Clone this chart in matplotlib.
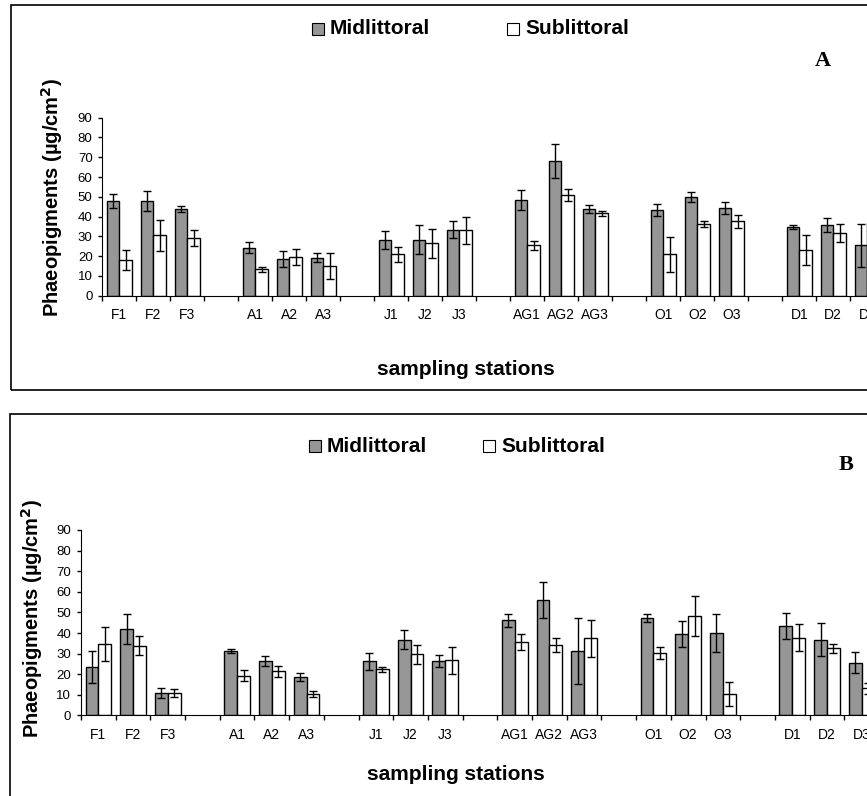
import matplotlib
matplotlib.use("Agg")
import matplotlib.pyplot as plt
import numpy as np
from matplotlib.patches import Rectangle

# station labels, '' = empty slot between months
stations = ['F1', 'F2', 'F3', '', 'A1', 'A2', 'A3', '', 'J1', 'J2', 'J3', '',
            'AG1', 'AG2', 'AG3', '', 'O1', 'O2', 'O3', '', 'D1', 'D2', 'D3']

# panel A values (NaN on empty slots)
midA = [47.9, 47.9, 43.8, np.nan, 24.3, 18.5, 19.2, np.nan, 28.3, 28.3, 33.4, np.nan,
        48.5, 68.1, 43.8, np.nan, 43.3, 49.7, 44.5, np.nan, 34.6, 35.7, 25.5]
midA_err = [3.4, 5.0, 1.7, 0, 2.9, 3.9, 2.4, 0, 4.6, 7.3, 4.3, 0,
            5.0, 8.7, 2.2, 0, 2.9, 2.5, 3.0, 0, 1.0, 3.5, 11.0]
subA = [17.9, 30.5, 29.0, np.nan, 13.3, 19.7, 15.2, np.nan, 20.9, 26.5, 33.0, np.nan,
        25.5, 50.7, 41.6, np.nan, 20.9, 36.4, 37.6, np.nan, 23.1, 31.7, 36.9]
subA_err = [5.0, 7.8, 4.0, 0, 1.3, 4.0, 6.6, 0, 3.7, 7.4, 6.9, 0,
            2.2, 3.0, 1.3, 0, 9.0, 1.6, 3.2, 0, 7.5, 4.4, 1.5]

# panel B values
midB = [23.6, 41.9, 10.9, np.nan, 31.2, 26.3, 18.6, np.nan, 26.3, 36.7, 26.3, np.nan,
        46.2, 56.1, 31.2, np.nan, 47.3, 39.5, 40.0, np.nan, 43.4, 36.7, 25.6]
midB_err = [7.7, 7.2, 2.6, 0, 1.0, 2.5, 2.1, 0, 4.1, 4.6, 3.0, 0,
            3.2, 8.6, 15.9, 0, 2.0, 6.2, 9.1, 0, 6.1, 8.0, 5.0]
subB = [34.6, 33.9, 10.9, np.nan, 19.2, 21.4, 10.4, np.nan, 22.3, 29.7, 26.8, np.nan,
        35.6, 34.1, 37.4, np.nan, 30.2, 48.3, 10.4, np.nan, 37.8, 32.5, 13.1]
subB_err = [8.2, 4.7, 1.9, 0, 2.6, 2.8, 1.4, 0, 1.4, 4.6, 6.6, 0,
            3.7, 3.3, 9.1, 0, 2.8, 9.6, 5.7, 0, 6.4, 2.3, 2.7]

W, H = 867, 796
GRAY = '#969696'
SANS = 'Liberation Sans'


def fx(x):
    return x / W


def fy(y):
    return 1 - y / H


fig = plt.figure(figsize=(W / 100, H / 100), dpi=100)


def draw_panel(ax_px, mid, mid_err, sub, sub_err):
    left, top, right, bottom = ax_px
    ax = fig.add_axes([fx(left), fy(bottom), fx(right - left), (bottom - top) / H])
    x = np.arange(len(stations))
    w = 0.37
    ekw = dict(ecolor='black', elinewidth=1.0, capsize=3, capthick=1.0)
    ax.bar(x - w / 2, mid, w, yerr=mid_err, color=GRAY, edgecolor='black',
           linewidth=1.0, error_kw=ekw)
    ax.bar(x + w / 2, sub, w, yerr=sub_err, color='white', edgecolor='black',
           linewidth=1.0, error_kw=ekw)
    ax.set_xlim(-0.5, len(stations) - 0.5)
    ax.set_ylim(0, 90)
    ax.set_yticks(np.arange(0, 91, 10))
    ax.set_xticks(np.arange(len(stations) + 1) - 0.5)
    ax.set_xticklabels([])
    ax.set_xticks(x, minor=True)
    ax.set_xticklabels(stations, minor=True, fontsize=10, family=SANS)
    ax.tick_params(axis='x', which='major', length=3.5, width=1, direction='out')
    ax.tick_params(axis='x', which='minor', length=0, pad=9)
    ax.tick_params(axis='y', length=3, width=1, pad=4, labelsize=9.5)
    for lab in ax.get_yticklabels():
        lab.set_family(SANS)
    ax.spines['top'].set_visible(False)
    ax.spines['right'].set_visible(False)
    ax.patch.set_alpha(0)
    return ax


def legend_and_labels(sq1, sq2, ycen, ylab_xy, xlab_xy, letter, letter_xy):
    s = 12
    for (x0, col) in [(sq1, GRAY), (sq2, 'white')]:
        fig.patches.append(Rectangle((fx(x0), fy(ycen + s / 2)), s / W, s / H,
                                     transform=fig.transFigure, facecolor=col,
                                     edgecolor='black', linewidth=0.8))
    fig.text(fx(sq1 + s + 6), fy(ycen), 'Midlittoral', family=SANS, fontsize=15,
             fontweight='bold', va='center', ha='left')
    fig.text(fx(sq2 + s + 6), fy(ycen), 'Sublittoral', family=SANS, fontsize=15,
             fontweight='bold', va='center', ha='left')
    fig.text(fx(ylab_xy[0]), fy(ylab_xy[1]), r'Phaeopigments (µg/cm$^{\mathbf{2}}$)',
             family=SANS, fontsize=14.5, fontweight='bold', rotation=90,
             ha='center', va='center')
    fig.text(fx(xlab_xy[0]), fy(xlab_xy[1]), 'sampling stations', family=SANS,
             fontsize=15, fontweight='bold', ha='center', va='center')
    fig.text(fx(letter_xy[0]), fy(letter_xy[1]), letter, family='Liberation Serif',
             fontsize=16, fontweight='bold', ha='center', va='center')


# panel frames (cut off on the right like the original)
fig.patches.append(Rectangle((fx(11), fy(390)), 1.2, (390 - 5) / H,
                             transform=fig.transFigure, fill=False,
                             edgecolor='black', linewidth=1.2))
fig.patches.append(Rectangle((fx(10), fy(820)), 1.2, (820 - 414) / H,
                             transform=fig.transFigure, fill=False,
                             edgecolor='black', linewidth=1.2))

draw_panel((102.3, 117.7, 884.3, 295.7), midA, midA_err, subA, subA_err)
draw_panel((81, 530, 879, 715.4), midB, midB_err, subB, subB_err)

legend_and_labels(312, 507, 28.5, (52, 197), (466, 370), 'A', (823, 61))
legend_and_labels(309, 483, 446, (32, 618), (456, 775), 'B', (846, 465))

fig.savefig('out.png', dpi=100)
